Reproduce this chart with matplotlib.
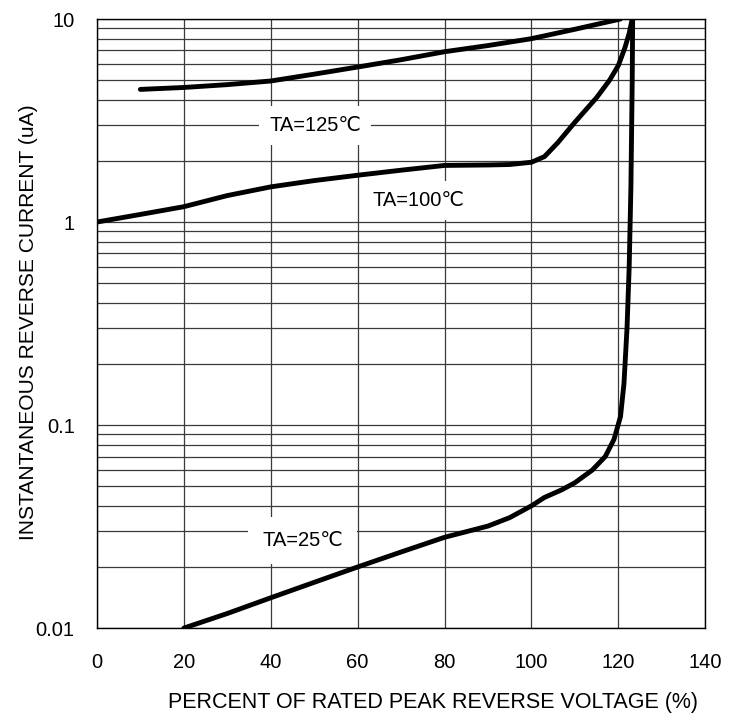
import matplotlib.pyplot as plt
from matplotlib.ticker import FixedLocator, LogLocator, NullFormatter

plt.rcParams['font.family'] = ['Liberation Sans', 'DejaVu Sans']

# Curve data (x: % rated peak reverse voltage, y: uA)
x_125 = [10, 20, 30, 40, 50, 60, 70, 80, 90, 100, 110, 120.5]
y_125 = [4.5, 4.6, 4.75, 4.95, 5.35, 5.8, 6.3, 6.9, 7.4, 8.0, 8.9, 10]

x_100 = [0, 10, 20, 30, 40, 50, 60, 70, 80, 90, 95, 100, 103, 106, 110, 115,
         118, 120, 121.5, 122.5, 123.2]
y_100 = [1.0, 1.09, 1.19, 1.35, 1.49, 1.6, 1.7, 1.8, 1.9, 1.91, 1.92, 1.97,
         2.1, 2.45, 3.1, 4.1, 5.0, 5.9, 7.2, 8.5, 10]

x_25 = [20, 30, 40, 50, 60, 70, 80, 90, 95, 100, 103, 107, 110, 114, 117,
        119, 120.5, 121.3, 122, 122.5, 122.9, 123.2, 123.3]
y_25 = [0.01, 0.0118, 0.0141, 0.0168, 0.02, 0.0237, 0.028, 0.0318, 0.035,
        0.04, 0.044, 0.048, 0.052, 0.06, 0.07, 0.085, 0.11, 0.16, 0.3, 0.6,
        1.5, 5, 10]

x_ticks = [0, 20, 40, 60, 80, 100, 120, 140]
y_ticks = [0.01, 0.1, 1, 10]
y_tick_labels = ['0.01', '0.1', '1', '10']

fig = plt.figure(figsize=(7.40, 7.17), dpi=100)
ax = fig.add_axes([0.131, 0.124, 0.822, 0.8495])

ax.set_yscale('log')
ax.set_xlim(0, 140)
ax.set_ylim(0.01, 10)

ax.xaxis.set_major_locator(FixedLocator(x_ticks))
ax.yaxis.set_major_locator(FixedLocator(y_ticks))
ax.set_yticklabels(y_tick_labels)
ax.yaxis.set_minor_locator(LogLocator(base=10, subs=range(2, 10)))
ax.yaxis.set_minor_formatter(NullFormatter())

# grid
ax.grid(True, which='major', axis='x', color='#3a3a3a', lw=0.9)
ax.grid(True, which='both', axis='y', color='#3a3a3a', lw=0.9)
ax.set_axisbelow(True)

for s in ax.spines.values():
    s.set_color('black')
    s.set_linewidth(1.0)

ax.tick_params(which='both', length=0, labelsize=14.5, colors='black')
ax.tick_params(axis='x', pad=18)
ax.tick_params(axis='y', pad=16)

# curves
ax.plot(x_125, y_125, color='black', lw=3.5, solid_capstyle='round', zorder=3)
ax.plot(x_100, y_100, color='black', lw=3.5, solid_capstyle='round', zorder=3)
ax.plot(x_25, y_25, color='black', lw=3.5, solid_capstyle='round', zorder=3)

# labels with white boxes
box = dict(facecolor='white', edgecolor='none', boxstyle='square,pad=0.5')
ax.text(50.2, 3.0, 'TA=125℃', fontsize=14.5, ha='center', va='center', bbox=box, zorder=2)
ax.text(73.9, 1.28, 'TA=100℃', fontsize=14.5, ha='center', va='center', bbox=box, zorder=2)
box25 = dict(facecolor='white', edgecolor='none', boxstyle='square,pad=0.7')
ax.text(47.4, 0.0271, 'TA=25℃', fontsize=14.5, ha='center', va='center', bbox=box25, zorder=2)

ax.set_xlabel('PERCENT OF RATED PEAK REVERSE VOLTAGE (%)', fontsize=15.5)
ax.set_ylabel('INSTANTANEOUS REVERSE CURRENT (uA)', fontsize=15.1)
ax.xaxis.set_label_coords(0.553, -0.1215)
ax.xaxis.label.set_va('center')
ax.yaxis.set_label_coords(-0.113, 0.502)
ax.yaxis.label.set_va('center')

fig.savefig('out.png', dpi=100)
